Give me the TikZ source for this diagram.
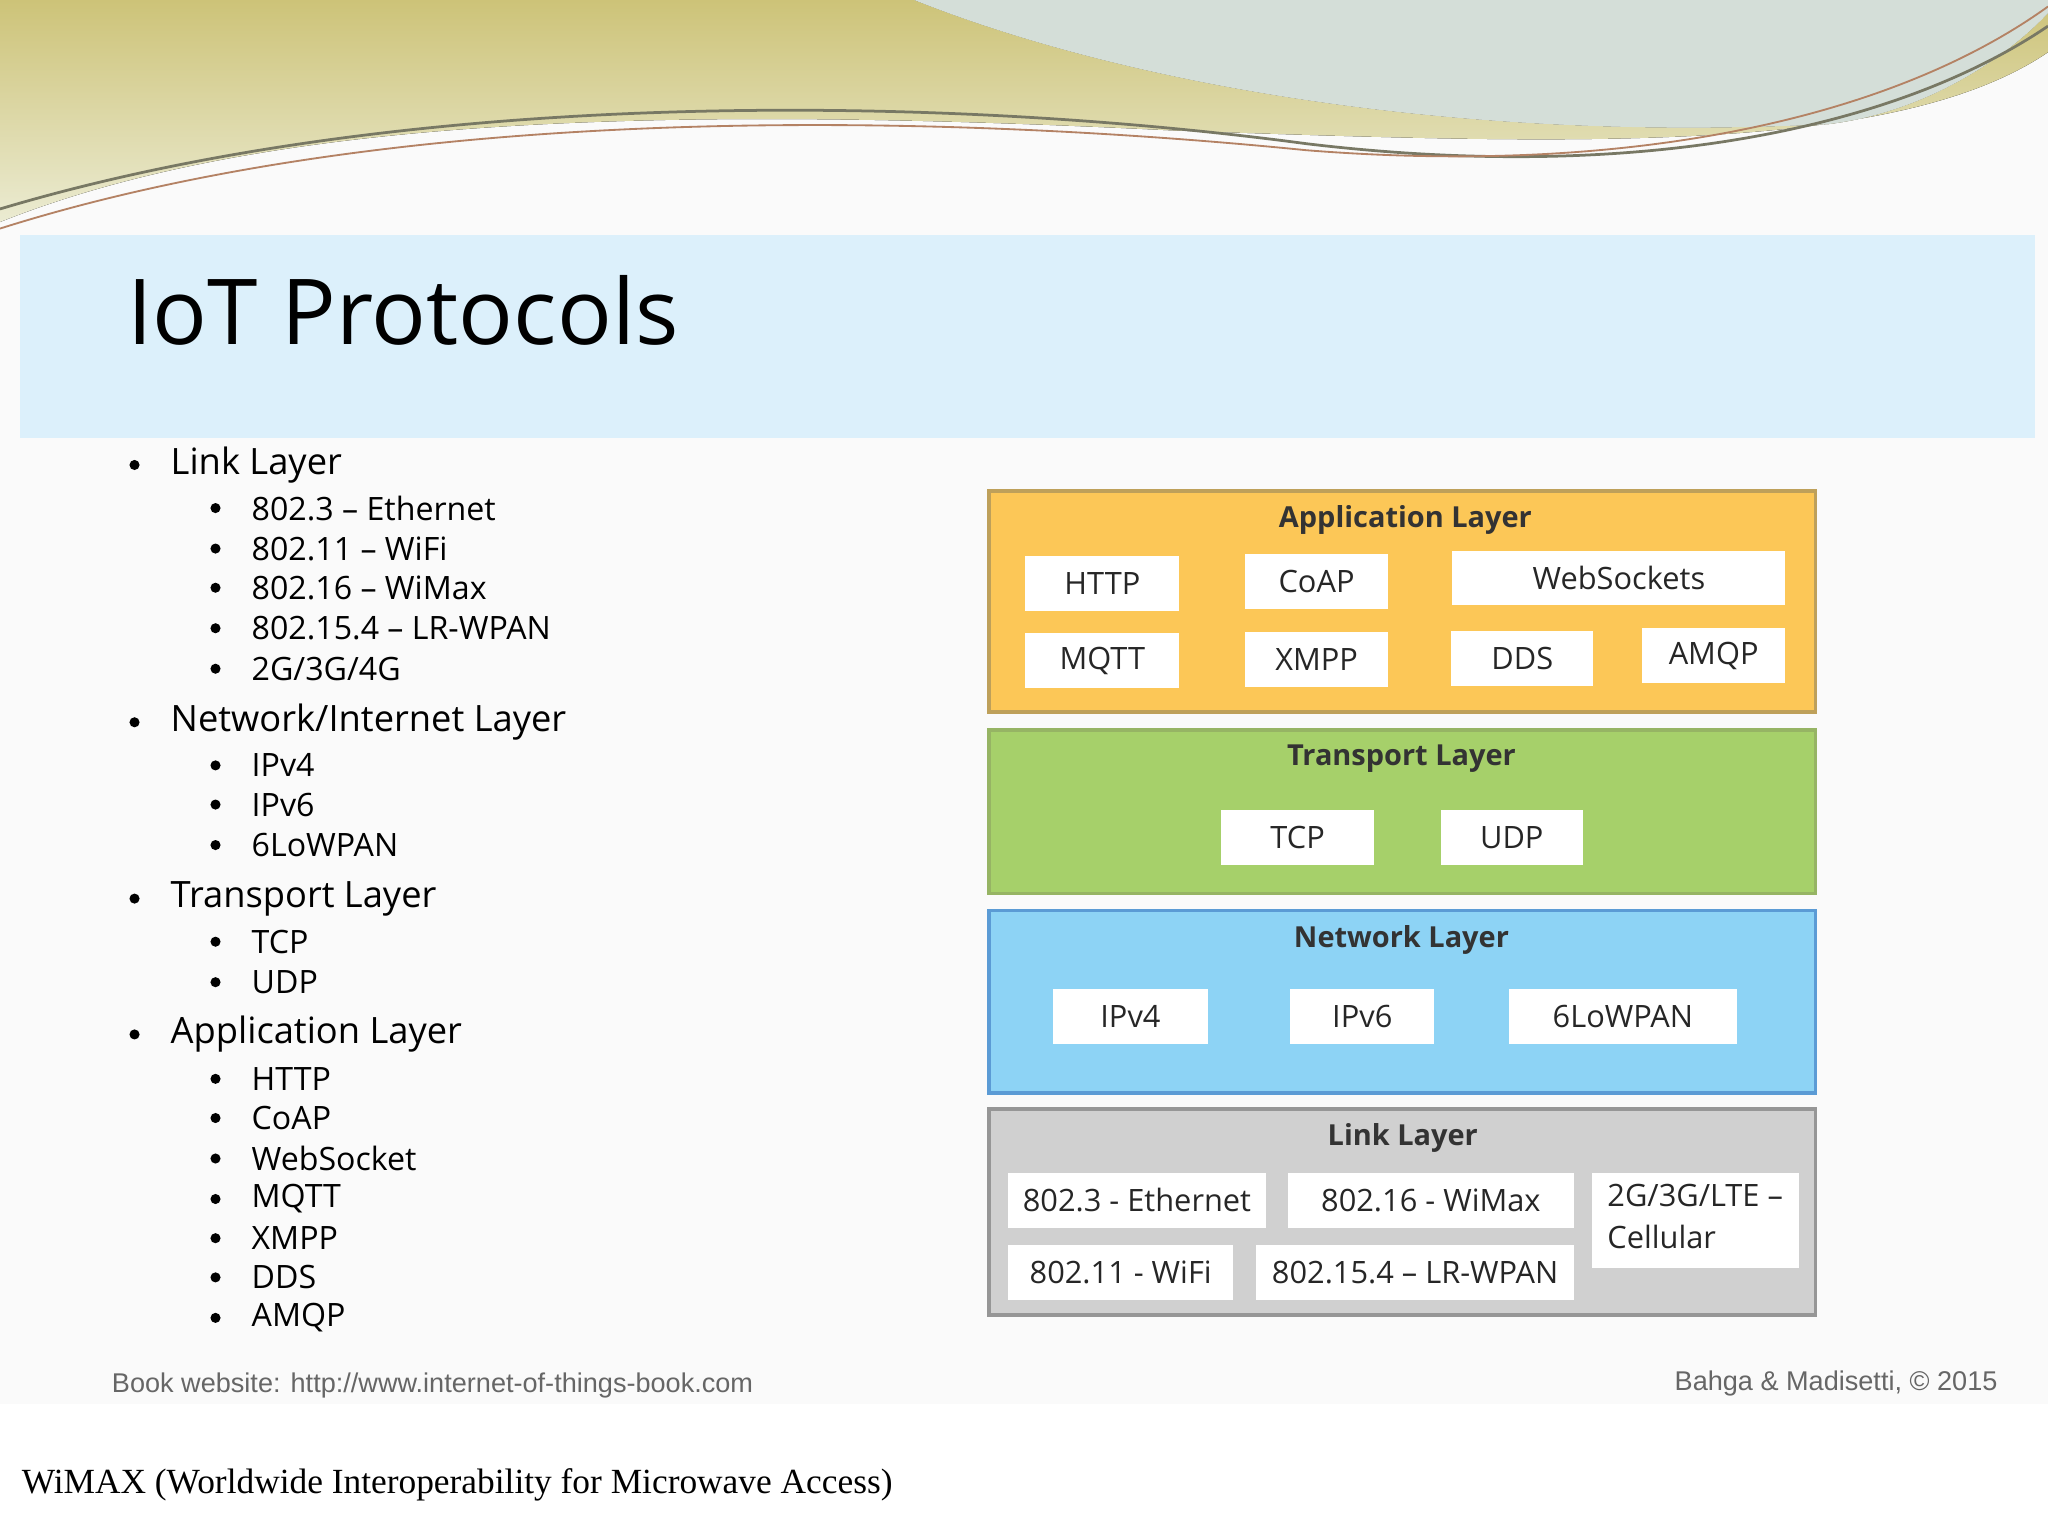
\documentclass[tikz,border=0pt]{standalone}
\usepackage{fontspec}
\setmainfont{Open Sans}
\newfontfamily\ftfont{Liberation Sans}
\newfontfamily\serifx{Liberation Serif}
\definecolor{olivet}{RGB}{205,195,120}
\definecolor{oliveb}{RGB}{235,235,210}
\definecolor{greyblue}{RGB}{212,222,216}
\definecolor{wline}{RGB}{120,120,100}
\definecolor{wline2}{RGB}{180,130,100}
\definecolor{band}{RGB}{220,240,251}
\definecolor{appf}{RGB}{252,199,87}\definecolor{appd}{RGB}{190,160,90}
\definecolor{trf}{RGB}{166,208,106}\definecolor{trd}{RGB}{150,180,100}
\definecolor{netf}{RGB}{141,211,245}\definecolor{netd}{RGB}{91,155,213}
\definecolor{lnkf}{RGB}{208,208,208}\definecolor{lnkd}{RGB}{150,150,150}
\begin{document}
\begin{tikzpicture}[x=0.01cm,y=-0.01cm,
  pbox/.style={fill=white,inner sep=0pt,font=\fontsize{6.7}{9}\selectfont,text=black!85},
  ltitle/.style={font=\bfseries\fontsize{6.3}{8}\selectfont,text=black!80},
  b1/.style={anchor=west,font=\fontsize{7.9}{10}\selectfont,inner sep=0pt},
  b2/.style={anchor=west,font=\fontsize{7.0}{9}\selectfont,inner sep=0pt},
  dot/.style={circle,fill=black,inner sep=0pt,minimum size=2.2pt}]
\useasboundingbox (0,0) rectangle (1568,1176);
\fill[black!2] (0,0) rectangle (1568,1176);
% top decoration
\fill[top color=olivet,bottom color=oliveb]
  (0,0) -- (700,0) .. controls (850,60) and (1100,110) .. (1400,95) .. controls (1480,85) and (1540,40) .. (1568,10) -- (1568,40)
  .. controls (1450,120) and (1200,110) .. (900,100) .. controls (500,80) and (200,90) .. (0,170) -- cycle;
\fill[greyblue] (700,0) -- (1568,0) -- (1568,10) .. controls (1540,40) and (1480,85) .. (1400,95) .. controls (1100,110) and (850,60) .. (700,0);
\draw[wline,line width=0.6pt] (0,160) .. controls (300,70) and (700,70) .. (1000,110) .. controls (1250,140) and (1450,100) .. (1568,20);
\draw[wline2,line width=0.4pt] (0,175) .. controls (300,80) and (700,85) .. (1000,115) .. controls (1250,135) and (1450,90) .. (1568,5);
% title band
\fill[band] (15,180) rectangle (1558,335);
\node[anchor=west,inner sep=0pt,font=\fontsize{19.8}{22}\selectfont] (title) at (97,238) {IoT Protocols};
% bullets
\foreach \t/\y [count=\i] in {{Link Layer}/356,{Network/Internet Layer}/553,{Transport Layer}/688,{Application Layer}/792}{
  \node[dot] (d1\i) at (103,\y) {};
  \node[b1] (t1\i) at (130,\y) {\t};}
\foreach \t/\y [count=\i] in {{802.3 -- Ethernet}/389,{802.11 -- WiFi}/420,{802.16 -- WiMax}/450,{802.15.4 -- LR-WPAN}/481,{2G/3G/4G}/512,IPv4/586,IPv6/616,6LoWPAN/647,TCP/721,UDP/752,HTTP/826,CoAP/856,WebSocket/887,MQTT/918,XMPP/948,DDS/978,AMQP/1009}{
  \node[dot] (d2\i) at (165,\y) {};
  \node[b2] (t2\i) at (192,\y) {\t};}
% layers
\filldraw[draw=appd,fill=appf,line width=0.8pt] (757,376) rectangle (1390,545);
\node[ltitle] (appt) at (1076,398) {Application Layer};
\filldraw[draw=trd,fill=trf,line width=0.8pt] (757,559) rectangle (1390,684);
\node[ltitle] (trt) at (1073,581) {Transport Layer};
\filldraw[draw=netd,fill=netf,line width=0.8pt] (757,697) rectangle (1390,837);
\node[ltitle] (nett) at (1073,720) {Network Layer};
\filldraw[draw=lnkd,fill=lnkf,line width=0.8pt] (757,849) rectangle (1390,1007);
\node[ltitle] (lnkt) at (1074,871) {Link Layer};
\foreach \n/\a/\b/\c/\d/\t in {http/785/426/903/468/HTTP,coap/953/424/1063/466/CoAP,ws/1112/422/1367/463/WebSockets,mqtt/785/485/903/527/MQTT,xmpp/953/484/1063/526/XMPP,dds/1111/483/1220/525/DDS,amqp/1257/481/1367/523/AMQP,tcp/935/620/1052/662/TCP,udp/1103/620/1212/662/UDP,ip4/806/757/925/799/IPv4,ip6/988/757/1098/799/IPv6,lowpan/1155/757/1330/799/6LoWPAN,eth/772/898/969/940/{802.3 - Ethernet},wimax/986/898/1205/940/{802.16 - WiMax},wifi/772/953/944/995/{802.11 - WiFi},lrw/962/953/1205/995/{802.15.4 -- LR-WPAN}}{
  \fill[white] (\a,\b) rectangle (\c,\d);
  \node[pbox] (\n) at ({(\a+\c)/2},{(\b+\d)/2}) {\t};}
\fill[white] (1219,898) rectangle (1377,971);
\node[pbox,anchor=north west,align=left,font=\fontsize{6.7}{9.2}\selectfont] (cell) at (1230,906) {2G/3G/LTE --\\Cellular};
% footer
\node[anchor=west,inner sep=0pt,text=black!60,font=\ftfont\fontsize{5.9}{7}\selectfont] (bw) at (85,1061) {Book website: http://www.internet-of-things-book.com};
\node[anchor=east,inner sep=0pt,text=black!60,font=\ftfont\fontsize{5.9}{7}\selectfont] (cp) at (1530,1059) {Bahga \& Madisetti, © 2015};
\fill[white] (0,1075) rectangle (1568,1176);
\node[anchor=west,inner sep=0pt,font=\serifx\fontsize{7.7}{9}\selectfont] (wm) at (16,1137) {WiMAX (Worldwide Interoperability for Microwave Access)};
\end{tikzpicture}
\end{document}
